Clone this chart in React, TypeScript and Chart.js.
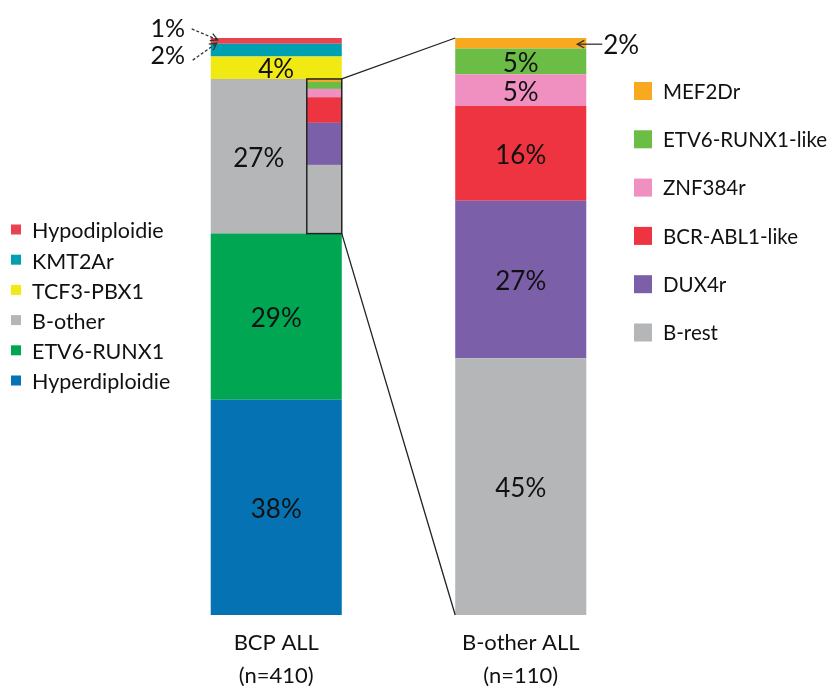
import React, { useEffect, useRef } from "react";
import { Chart, registerables } from "chart.js";

Chart.register(...registerables);

// ---------------- data ----------------
const categories = [["BCP ALL", "(n=410)"], ["B-other ALL", "(n=110)"]];

const bcpGroups = ["Hyperdiploidie", "ETV6-RUNX1", "B-other", "TCF3-PBX1", "KMT2Ar", "Hypodiploidie"];
const bcpValues = [37.3, 28.8, 26.8, 3.9, 2.2, 1.0];
const bcpLabels = ["38%", "29%", "27%", "4%", "2%", "1%"];
const bcpColors = ["#0573B3", "#00A651", "#B4B6B7", "#F1EA12", "#00A0B0", "#E8434F"];

const otherGroups = ["B-rest", "DUX4r", "BCR-ABL1-like", "ZNF384r", "ETV6-RUNX1-like", "MEF2Dr"];
const otherValues = [44.5, 27.3, 16.4, 5.5, 4.5, 1.8];
const otherLabels = ["45%", "27%", "16%", "5%", "5%", "2%"];
const otherColors = ["#B4B6B7", "#7B5FA9", "#EE3440", "#EF90C0", "#6CBD45", "#F8A91F"];

const FONT = "Lato, 'Open Sans', sans-serif";

function drawArrow(ctx: CanvasRenderingContext2D, x1: number, y1: number, x2: number, y2: number, dashed: boolean) {
  ctx.save();
  ctx.strokeStyle = "#333";
  ctx.lineWidth = 1.3;
  if (dashed) ctx.setLineDash([3, 2]);
  ctx.beginPath();
  ctx.moveTo(x1, y1);
  ctx.lineTo(x2, y2);
  ctx.stroke();
  ctx.setLineDash([]);
  const a = Math.atan2(y2 - y1, x2 - x1);
  const L = 8;
  ctx.beginPath();
  ctx.moveTo(x2 - L * Math.cos(a - 0.5), y2 - L * Math.sin(a - 0.5));
  ctx.lineTo(x2, y2);
  ctx.lineTo(x2 - L * Math.cos(a + 0.5), y2 - L * Math.sin(a + 0.5));
  ctx.stroke();
  ctx.restore();
}

const overlayPlugin = {
  id: "overlay",
  afterDatasetsDraw(chart: any) {
    const ctx: CanvasRenderingContext2D = chart.ctx;
    const nL = bcpValues.length;
    const el = (i: number) => chart.getDatasetMeta(i).data[i < nL ? 0 : 1];

    // inset breakdown inside the B-other segment
    const bo = el(2);
    const boLeft = bo.x - bo.width / 2;
    const boRight = bo.x + bo.width / 2;
    const insetW = bo.width * 0.267;
    const insetX = boRight - insetW;
    const total = otherValues.reduce((a, b) => a + b, 0);
    const segH = bo.base - bo.y;
    let cum = 0;
    otherValues.forEach((v, i) => {
      const yb = bo.base - (cum / total) * segH;
      cum += v;
      const yt = bo.base - (cum / total) * segH;
      ctx.fillStyle = otherColors[i];
      ctx.fillRect(insetX, yt, insetW, yb - yt);
    });
    ctx.save();
    ctx.strokeStyle = "#222";
    ctx.lineWidth = 1.5;
    ctx.strokeRect(insetX, bo.y, insetW, segH);

    // connector lines
    const rTop = el(nL + otherValues.length - 1);
    const rBot = el(nL);
    const rLeft = rBot.x - rBot.width / 2;
    ctx.lineWidth = 1.3;
    ctx.beginPath();
    ctx.moveTo(boRight, bo.y);
    ctx.lineTo(rLeft, rTop.y);
    ctx.moveTo(boRight, bo.base);
    ctx.lineTo(rLeft, rBot.base);
    ctx.stroke();
    ctx.restore();

    // value labels
    ctx.save();
    ctx.fillStyle = "#111";
    ctx.textAlign = "center";
    ctx.textBaseline = "middle";
    ctx.font = `26px ${FONT}`;
    bcpLabels.forEach((t, i) => {
      if (i >= 4) return;
      const e = el(i);
      const cx = i === 2 ? (boLeft + insetX) / 2 : e.x;
      ctx.fillText(t, cx, (e.y + e.base) / 2 + 2);
    });
    otherLabels.forEach((t, i) => {
      if (i === otherLabels.length - 1) return;
      const e = el(nL + i);
      ctx.fillText(t, e.x, (e.y + e.base) / 2 + 2);
    });

    // outside labels with arrows
    ctx.font = `25px ${FONT}`;
    const hypo = el(5);
    const kmt = el(4);
    const left = hypo.x - hypo.width / 2;
    const hy = (hypo.y + hypo.base) / 2;
    const ky = (kmt.y + kmt.base) / 2;
    ctx.fillText(bcpLabels[5], left - 43, hy - 12);
    ctx.fillText(bcpLabels[4], left - 43, ky + 6);
    drawArrow(ctx, left - 19, hy - 12, left + 7, hy - 1, true);
    drawArrow(ctx, left - 18, ky + 10, left + 6, ky - 7, true);

    const mef = el(nL + otherValues.length - 1);
    const mRight = mef.x + mef.width / 2;
    const my = (mef.y + mef.base) / 2;
    drawArrow(ctx, mRight + 16, my + 1, mRight - 9, my + 1, false);
    ctx.textAlign = "left";
    ctx.font = `26px ${FONT}`;
    ctx.fillText(otherLabels[otherLabels.length - 1], mRight + 17, my + 2);

    // category labels
    ctx.textAlign = "center";
    ctx.font = `22px ${FONT}`;
    const xs = chart.scales.x;
    categories.forEach((lines, i) => {
      const x = xs.getPixelForValue(i);
      lines.forEach((ln, j) => ctx.fillText(ln, x, chart.chartArea.bottom + 28 + j * 33));
    });

    // left legend
    ctx.textAlign = "left";
    ctx.font = `21.5px ${FONT}`;
    for (let k = 0; k < bcpGroups.length; k++) {
      const i = bcpGroups.length - 1 - k;
      const cy = 229.5 + k * 30.2;
      ctx.fillStyle = bcpColors[i];
      ctx.fillRect(11, cy - 5, 10, 10);
      ctx.fillStyle = "#111";
      ctx.fillText(bcpGroups[i], 32, cy + 2);
    }
    // right legend
    ctx.font = `20.5px ${FONT}`;
    for (let k = 0; k < otherGroups.length; k++) {
      const i = otherGroups.length - 1 - k;
      const cy = 91 + k * 48.3;
      ctx.fillStyle = otherColors[i];
      ctx.fillRect(634, cy - 9, 18, 18);
      ctx.fillStyle = "#111";
      ctx.fillText(otherGroups[i], 663, cy + 1);
    }
    ctx.restore();
  },
};

export default function App() {
  const ref = useRef<HTMLCanvasElement | null>(null);
  useEffect(() => {
    if (!ref.current) return;
    const datasets: any[] = [];
    bcpGroups.forEach((g, i) =>
      datasets.push({ label: g, data: [bcpValues[i], null], backgroundColor: bcpColors[i], borderWidth: 0 })
    );
    otherGroups.forEach((g, i) =>
      datasets.push({ label: g, data: [null, otherValues[i]], backgroundColor: otherColors[i], borderWidth: 0 })
    );
    const chart = new Chart(ref.current, {
      type: "bar",
      data: { labels: categories.map((c) => c.join(" ")), datasets },
      options: {
        animation: false,
        responsive: true,
        maintainAspectRatio: false,
        layout: { padding: { left: 154, right: 185, top: 38, bottom: 71 } },
        datasets: { bar: { categoryPercentage: 0.536, barPercentage: 1 } } as any,
        plugins: { legend: { display: false }, tooltip: { enabled: false } },
        scales: {
          x: { stacked: true, display: false },
          y: { stacked: true, display: false, min: 0, max: 100 },
        },
      },
      plugins: [overlayPlugin],
    });
    return () => chart.destroy();
  }, []);
  return (
    <div style={{ position: "fixed", left: 0, top: 0, width: 828, height: 686, background: "#fff" }}>
      <canvas ref={ref} />
    </div>
  );
}
